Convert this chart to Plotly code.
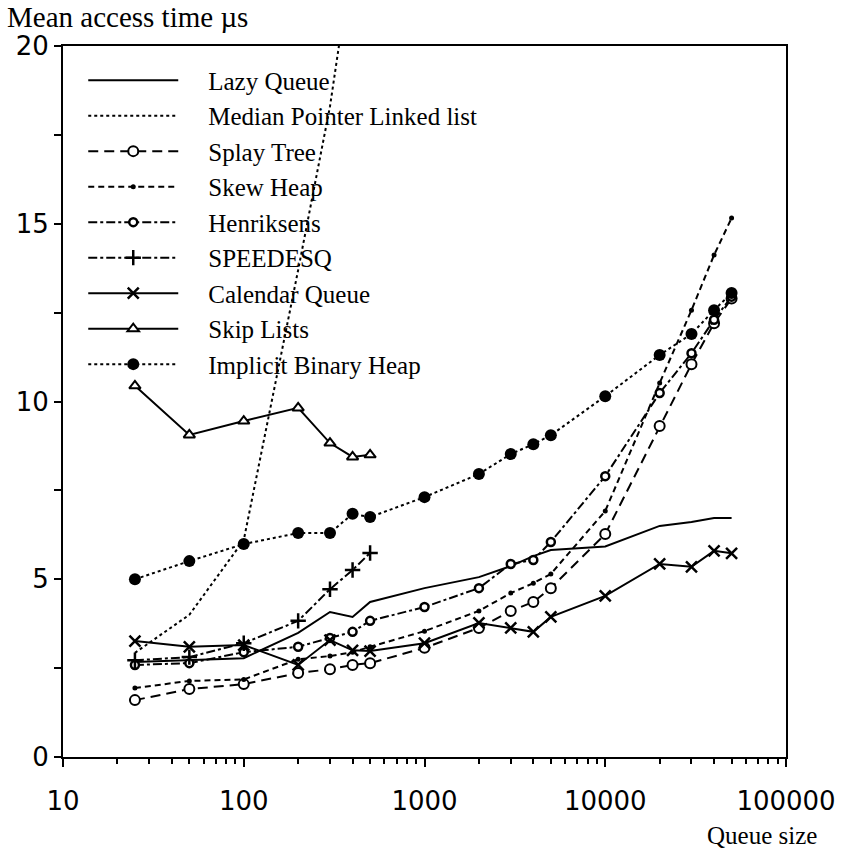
import plotly.graph_objects as go

queue_size = [25, 50, 100, 200, 300, 400, 500, 1000, 2000, 3000, 4000, 5000,
              10000, 20000, 30000, 40000, 50000]
small_sizes = [25, 50, 100, 200, 300, 400, 500]
median_sizes = [25, 50, 100, 200, 300, 400]

lazy_queue = [2.67, 2.72, 2.78, 3.49, 4.08, 3.94, 4.36, 4.75, 5.06, 5.37, 5.65, 5.82,
              5.92, 6.5, 6.61, 6.72, 6.72]
median_pointer = [2.93, 4.0, 6.1, 13.7, 18.3, 22.6]
splay_tree = [1.6, 1.91, 2.05, 2.36, 2.47, 2.59, 2.64, 3.07, 3.63, 4.11, 4.36, 4.75,
              6.27, 9.31, 11.05, 12.2, 12.9]
skew_heap = [1.94, 2.14, 2.18, 2.75, 2.84, 2.95, 3.1, 3.54, 4.11, 4.61, 4.89, 5.15,
             6.92, 10.52, 12.57, 14.12, 15.16]
henriksens = [2.59, 2.64, 2.95, 3.1, 3.35, 3.52, 3.83, 4.22, 4.75, 5.43, 5.54, 6.05,
              7.9, 10.24, 11.36, 12.3, 12.95]
speedesq = [2.72, 2.81, 3.2, 3.83, 4.72, 5.26, 5.74]
calendar_queue = [3.26, 3.1, 3.15, 2.59, 3.29, 3.0, 2.98, 3.2, 3.77, 3.63, 3.52, 3.94,
                  4.53, 5.43, 5.35, 5.8, 5.73]
skip_lists = [10.44, 9.06, 9.45, 9.82, 8.83, 8.44, 8.5]
implicit_heap = [5.0, 5.51, 5.99, 6.3, 6.3, 6.84, 6.75, 7.31, 7.96, 8.52, 8.80, 9.05,
                 10.15, 11.31, 11.9, 12.57, 13.05]

x_tickvals = [10, 100, 1000, 10000, 100000]
x_ticktext = ["10", "100", "1000", "10000", "100000"]
x_minorvals = [m * d for d in [10, 100, 1000, 10000] for m in range(2, 10)]

BLACK = "black"
PAD = "\u00a0" * 4  # gap between legend sample line and its label
fig = go.Figure()

def add(name, xs, ys, dash, symbol=None, size=0, fill=BLACK, mlw=0):
    mode = "lines+markers" if symbol else "lines"
    marker = dict(symbol=symbol, size=size, color=fill,
                  line=dict(color=BLACK, width=mlw)) if symbol else None
    fig.add_trace(go.Scatter(x=xs, y=ys, name=PAD + name, mode=mode,
                             line=dict(color=BLACK, width=2, dash=dash),
                             marker=marker))

add("Lazy Queue", queue_size, lazy_queue, "solid")
add("Median Pointer Linked list", median_sizes, median_pointer, "dot")
add("Splay Tree", queue_size, splay_tree, "10px,6px", "circle", 10, "white", 2)
add("Skew Heap", queue_size, skew_heap, "6px,4px", "circle", 5, BLACK, 0)
add("Henriksens", queue_size, henriksens, "dashdot", "circle", 8, "white", 2.5)
add("SPEEDESQ", small_sizes, speedesq, "dashdot", "cross-thin-open", 11, BLACK, 2.5)
add("Calendar Queue", queue_size, calendar_queue, "solid", "x-thin-open", 11, BLACK, 2.5)
add("Skip Lists", small_sizes, skip_lists, "solid", "triangle-up", 10, "white", 2)
add("Implicit Binary Heap", queue_size, implicit_heap, "dot", "circle", 12, BLACK, 0)

tickfont = dict(family="DejaVu Sans", size=26, color=BLACK)
fig.update_layout(
    width=848, height=859,
    margin=dict(l=63, r=51, t=46, b=102),
    paper_bgcolor="white", plot_bgcolor="white",
    showlegend=True,
    legend=dict(x=0.028, y=0.984, xanchor="left", yanchor="top",
                bgcolor="rgba(0,0,0,0)", itemwidth=90,
                font=dict(family="Liberation Serif", size=25, color=BLACK),
                tracegroupgap=0),
    xaxis=dict(type="log", range=[1, 5], tickvals=x_tickvals, ticktext=x_ticktext,
               ticks="outside", ticklen=8, tickwidth=2, tickcolor=BLACK,
               showline=True, linewidth=2, linecolor=BLACK, mirror=True,
               showgrid=False, zeroline=False, tickfont=tickfont,
               ticklabelstandoff=12,
               minor=dict(tickvals=x_minorvals, ticks="outside", ticklen=5,
                          tickwidth=2, tickcolor=BLACK, showgrid=False)),
    yaxis=dict(range=[0, 20], dtick=5, ticks="outside", ticklen=7, tickwidth=2,
               tickcolor=BLACK, showline=True, linewidth=2, linecolor=BLACK,
               mirror=True, showgrid=False, zeroline=False, tickfont=tickfont,
               minor=dict(dtick=2.5, ticks="outside", ticklen=7, tickwidth=2,
                          tickcolor=BLACK, showgrid=False)),
    annotations=[
        dict(text="Mean access time µs", xref="paper", yref="paper",
             x=-0.08, y=1.041, xanchor="left", yanchor="middle", showarrow=False,
             font=dict(family="Liberation Serif", size=29, color=BLACK)),
        dict(text="Queue size", xref="paper", yref="paper",
             x=1.045, y=-0.11, xanchor="right", yanchor="middle", showarrow=False,
             font=dict(family="Liberation Serif", size=25, color=BLACK)),
    ],
)

fig.write_html("out.html")
